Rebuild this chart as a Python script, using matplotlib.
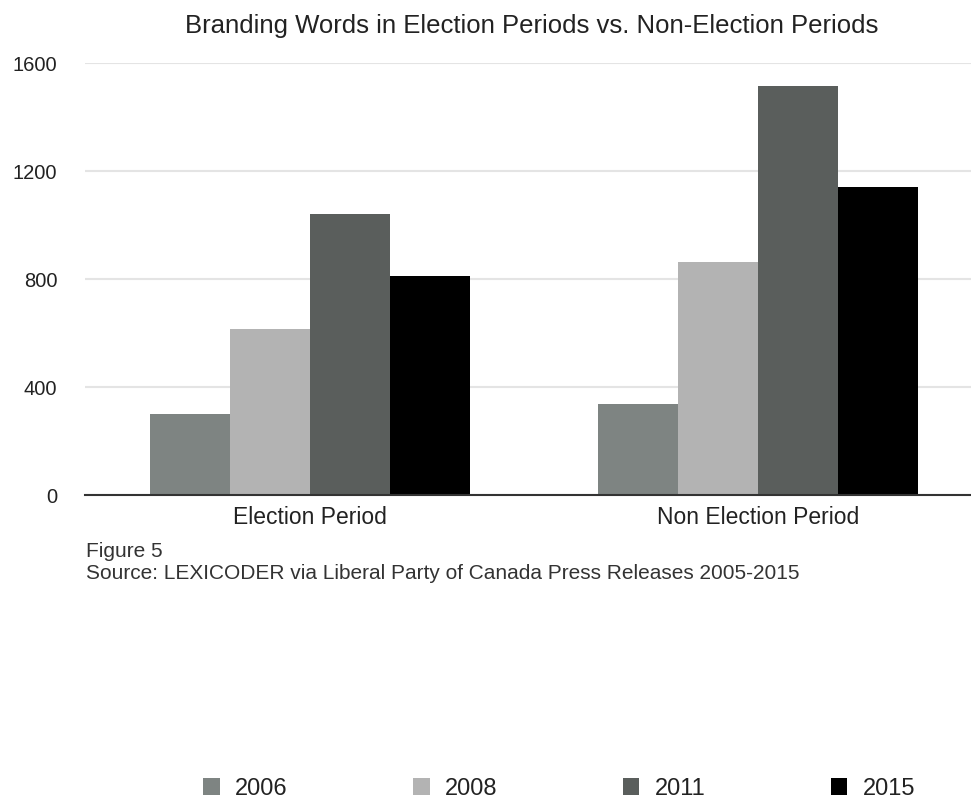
import numpy as np
import matplotlib.pyplot as plt
from matplotlib.patches import Patch

plt.rcParams['font.family'] = ['Liberation Sans', 'DejaVu Sans']

# Data
periods = ["Election Period", "Non Election Period"]
years = ["2006", "2008", "2011", "2015"]
counts_2006 = [300, 337]
counts_2008 = [615, 863]
counts_2011 = [1040, 1515]
counts_2015 = [811, 1141]
series = [counts_2006, counts_2008, counts_2011, counts_2015]
colors = ["#7e8482", "#b3b3b3", "#5a5e5c", "#000000"]

fig = plt.figure(figsize=(9.71, 8.01), dpi=100)
ax = fig.add_axes([0.0875, 0.382, 0.9125, 0.539])

x = np.arange(len(periods))
w = 0.1786
for i, vals in enumerate(series):
    ax.bar(x + (i - 1.5) * w, vals, width=w, color=colors[i], zorder=3)

ax.set_xlim(-0.502, 1.475)
ax.set_ylim(0, 1600)
ax.set_yticks([0, 400, 800, 1200, 1600])
ax.set_xticks(x)
ax.set_xticklabels(periods, fontsize=16.5, color="#222222")
ax.tick_params(axis="y", labelsize=14.5, colors="#222222", length=0, pad=20)
ax.tick_params(axis="x", length=0, pad=8)
ax.grid(axis="y", color="#e4e4e4", linewidth=1.5, zorder=0)
for s in ["top", "right", "left"]:
    ax.spines[s].set_visible(False)
ax.spines["bottom"].set_color("#333333")
ax.spines["bottom"].set_linewidth(1.5)
ax.spines["bottom"].set_zorder(4)

fig.text(0.548, 0.968, "Branding Words in Election Periods vs. Non-Election Periods",
         ha="center", va="center", fontsize=18.5, color="#222222")
fig.text(0.089, 0.312, "Figure 5", fontsize=15, color="#333333", va="center")
fig.text(0.089, 0.284, "Source: LEXICODER via Liberal Party of Canada Press Releases 2005-2015",
         fontsize=15, color="#333333", va="center")

handles = [Patch(facecolor=c, label=y) for c, y in zip(colors, years)]
fig.legend(handles=handles, loc="center", bbox_to_anchor=(0.576, 0.015), ncol=4,
           frameon=False, fontsize=17, handlelength=0.7, handleheight=0.7,
           columnspacing=5.3, handletextpad=0.66, labelcolor="#222222",
           borderpad=0)

fig.savefig("out.png", dpi=100)
